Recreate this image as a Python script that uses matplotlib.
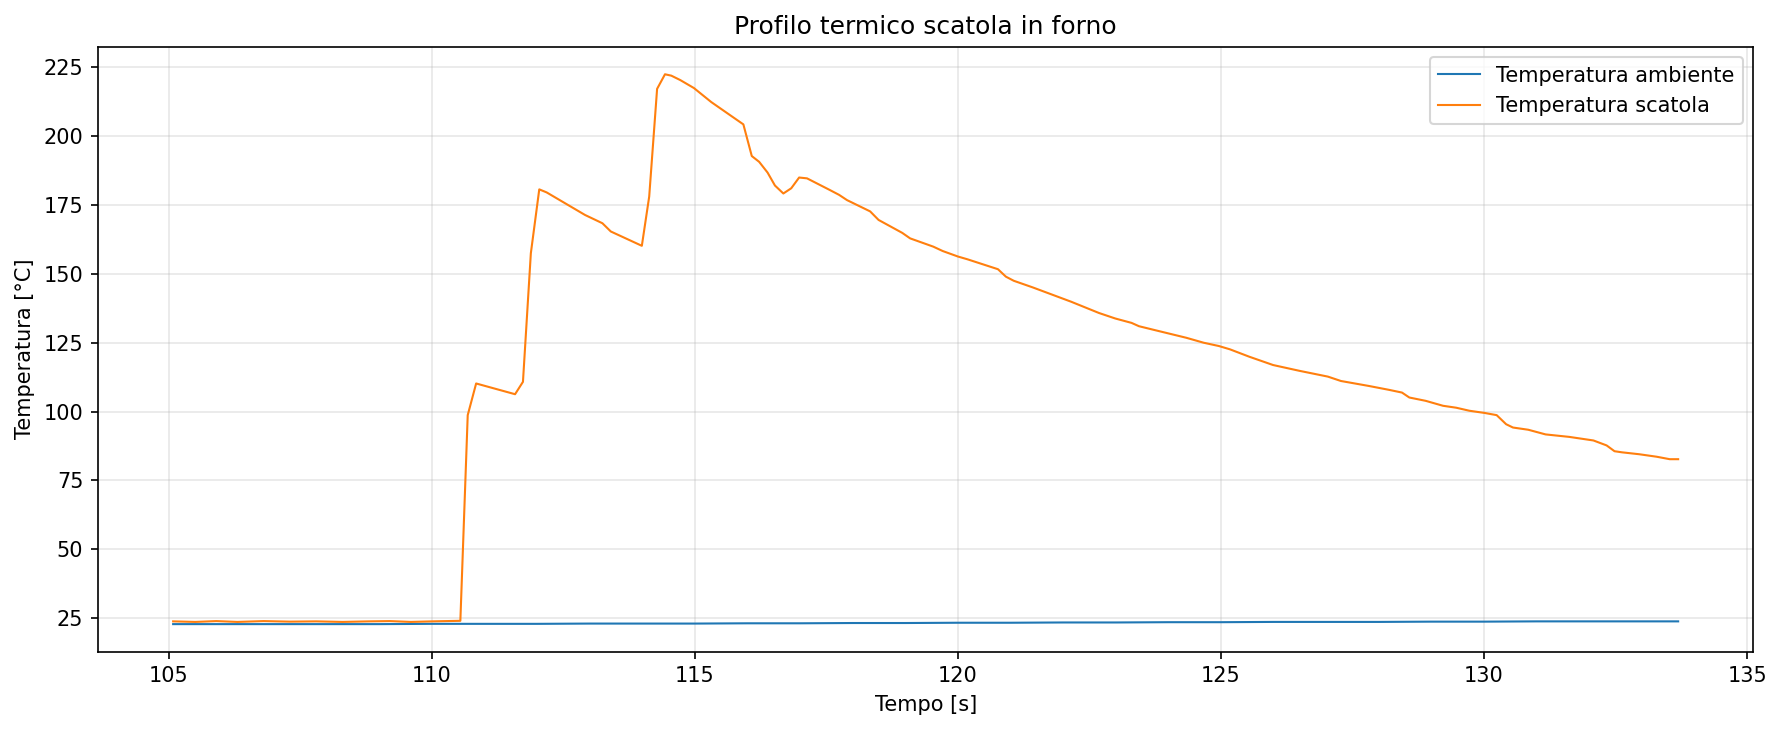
# Profilo termico della scatola in forno: temperatura ambiente vs temperatura scatola
import matplotlib.pyplot as plt

# Temperatura ambiente (vertici)
t_amb = [105.08, 106.0, 107.0, 108.0, 109.0, 110.0, 111.0, 112.0, 113.0, 114.0,
         115.0, 116.0, 117.0, 118.0, 119.0, 120.0, 121.0, 122.0, 123.0, 124.0,
         125.0, 126.0, 127.0, 128.0, 129.0, 130.0, 131.0, 132.0, 133.0, 133.69]
v_amb = [22.8, 22.8, 22.8, 22.8, 22.8, 22.9, 22.9, 22.9, 23.0, 23.0,
         23.0, 23.1, 23.1, 23.2, 23.2, 23.3, 23.3, 23.4, 23.4, 23.5,
         23.5, 23.6, 23.6, 23.6, 23.7, 23.7, 23.8, 23.8, 23.8, 23.8]

# Temperatura scatola (vertici)
t_box = [105.08, 105.5, 105.9, 106.3, 106.8, 107.3, 107.8, 108.3, 108.8, 109.2,
         109.6, 110.0, 110.54, 110.68, 110.84, 111.58, 111.73, 111.88, 112.04, 112.18,
         112.91, 113.24, 113.40, 113.99, 114.13, 114.28, 114.43, 114.55, 114.72, 114.98,
         115.31, 115.92, 116.08, 116.22, 116.38, 116.52, 116.68, 116.83, 116.98, 117.13,
         117.56, 117.74, 117.89, 118.33, 118.49, 118.94, 119.09, 119.53, 119.71, 120.0,
         120.18, 120.76, 120.91, 121.06, 121.42, 122.15, 122.68, 122.99, 123.30, 123.44,
         123.76, 124.34, 124.67, 124.96, 125.17, 125.54, 125.99, 126.49, 127.03, 127.28,
         127.81, 128.19, 128.44, 128.58, 128.89, 129.22, 129.47, 129.72, 130.01, 130.24,
         130.42, 130.55, 130.84, 131.17, 131.62, 132.08, 132.33, 132.48, 132.62, 132.95,
         133.28, 133.53, 133.69]
v_box = [23.8, 23.6, 23.9, 23.6, 23.9, 23.7, 23.8, 23.6, 23.8, 23.9,
         23.6, 23.8, 24.0, 98.7, 110.2, 106.3, 110.8, 157.5, 180.7, 179.6,
         171.4, 168.4, 165.4, 160.2, 178.1, 217.2, 222.5, 222.0, 220.4, 217.5,
         212.4, 204.3, 192.8, 190.7, 186.8, 182.1, 179.2, 181.1, 185.0, 184.7,
         180.5, 178.7, 176.8, 172.7, 169.6, 164.9, 162.9, 159.9, 158.3, 156.3,
         155.3, 151.7, 149.0, 147.5, 145.1, 139.9, 135.8, 133.8, 132.2, 131.0,
         129.5, 126.8, 125.0, 123.8, 122.6, 119.9, 116.9, 114.8, 112.7, 111.1,
         109.3, 107.9, 106.9, 105.1, 103.9, 102.1, 101.4, 100.3, 99.5, 98.7,
         95.4, 94.2, 93.4, 91.7, 90.8, 89.5, 87.7, 85.6, 85.2, 84.5,
         83.6, 82.7, 82.7]

fig = plt.figure(figsize=(1783 / 150, 731 / 150), dpi=150)
ax = fig.add_axes([0.0549, 0.1086, 0.9285, 0.8274])
ax.plot(t_amb, v_amb, lw=1.0, label="Temperatura ambiente")
ax.plot(t_box, v_box, lw=1.0, label="Temperatura scatola")
ax.set_xlabel("Tempo [s]")
ax.set_ylabel("Temperatura [°C]")
ax.set_title("Profilo termico scatola in forno", fontsize=12)
ax.set_yticks([25, 50, 75, 100, 125, 150, 175, 200, 225])
ax.grid(True, alpha=0.3)
ax.legend(loc="upper right")
fig.savefig("out.png", dpi=150)
